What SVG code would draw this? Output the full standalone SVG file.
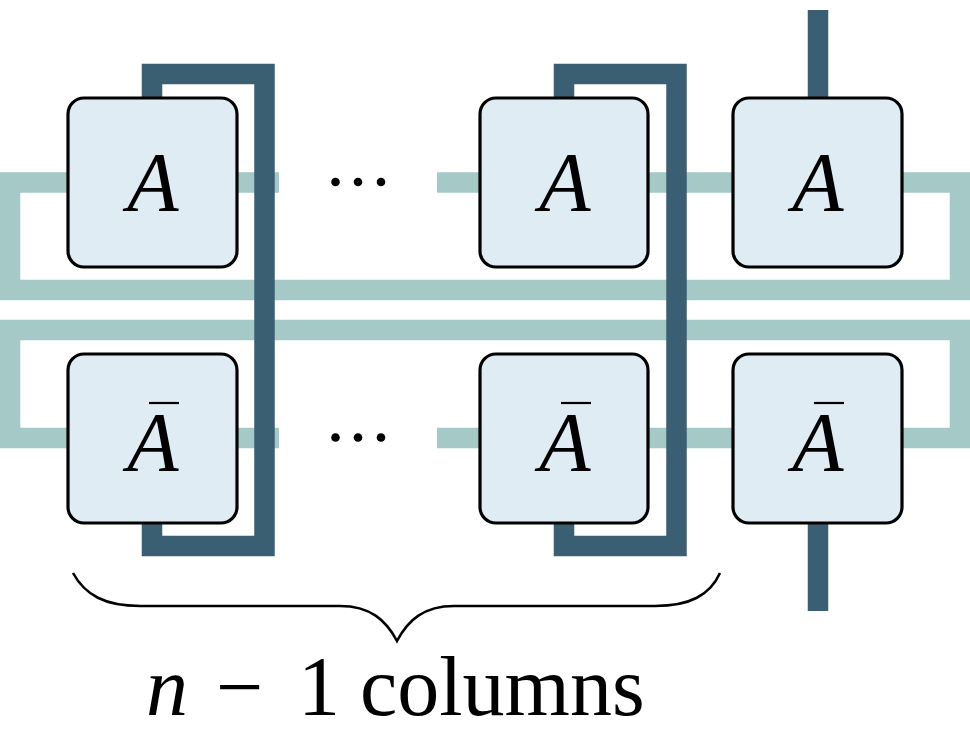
<svg xmlns="http://www.w3.org/2000/svg" width="970" height="750" viewBox="0 0 970 750">
<style>
.teal{fill:none;stroke:#A4C9C6;stroke-width:20.5;stroke-linejoin:miter;stroke-linecap:butt}
.dark{fill:none;stroke:#3A5F72;stroke-width:20.5;stroke-linejoin:miter;stroke-linecap:butt}
.box{fill:#DFECF4;stroke:#000;stroke-width:3.2}
.lbl{font-family:"Liberation Serif","Times New Roman",serif;font-style:italic;font-size:84px;fill:#000}
.bar{stroke:#000;stroke-width:2.2}
.txt{font-family:"Liberation Serif","Times New Roman",serif;font-size:84px;fill:#000}
</style>
<g id="connectors">
  <path class="teal" d="M68,182.5 H10 V290 H960 V182.5 H902"/>
  <path class="teal" d="M68,438 H10 V330 H960 V438 H902"/>
  <path class="teal" d="M237,182.5 H279"/>
  <path class="teal" d="M437,182.5 H480"/>
  <path class="teal" d="M648,182.5 H733"/>
  <path class="teal" d="M237,438 H279"/>
  <path class="teal" d="M437,438 H480"/>
  <path class="teal" d="M648,438 H733"/>
  <path class="dark" d="M152,98 V74 H264.5 V546 H152 V523"/>
  <path class="dark" d="M564,98 V74 H676.5 V546 H564 V523"/>
  <path class="dark" d="M818,10 V98"/>
  <path class="dark" d="M818,523 V611"/>
</g>
<g id="dots">
  <circle cx="335.5" cy="182" r="4.3"/><circle cx="358" cy="182" r="4.3"/><circle cx="381" cy="182" r="4.3"/>
  <circle cx="335.5" cy="437.5" r="4.3"/><circle cx="358" cy="437.5" r="4.3"/><circle cx="381" cy="437.5" r="4.3"/>
</g>
<g id="A1"><rect class="box" x="68" y="98" width="169" height="169" rx="16"/><text class="lbl" x="153" y="211" text-anchor="middle">A</text></g>
<g id="A2"><rect class="box" x="480" y="98" width="168" height="169" rx="16"/><text class="lbl" x="565" y="211" text-anchor="middle">A</text></g>
<g id="A3"><rect class="box" x="733" y="98" width="169" height="169" rx="16"/><text class="lbl" x="818" y="211" text-anchor="middle">A</text></g>
<g id="Abar1"><rect class="box" x="68" y="354" width="169" height="169" rx="16"/><text class="lbl" x="153" y="471" text-anchor="middle">A</text><line class="bar" x1="149" y1="403" x2="179" y2="403"/></g>
<g id="Abar2"><rect class="box" x="480" y="354" width="168" height="169" rx="16"/><text class="lbl" x="565" y="471" text-anchor="middle">A</text><line class="bar" x1="561" y1="403" x2="591" y2="403"/></g>
<g id="Abar3"><rect class="box" x="733" y="354" width="169" height="169" rx="16"/><text class="lbl" x="818" y="471" text-anchor="middle">A</text><line class="bar" x1="814" y1="403" x2="844" y2="403"/></g>
<g id="brace">
  <path d="M73,573 C85,595 105,606 140,606 H340 C370,606 386,620 397,641 C408,620 424,606 454,606 H655 C690,606 710,595 720,573" fill="none" stroke="#000" stroke-width="2.6"/>
</g>
<g id="caption">
  <text class="txt" y="715"><tspan x="146" font-style="italic">n</tspan><tspan x="216">−</tspan><tspan x="298">1</tspan><tspan x="360">columns</tspan></text>
</g>
</svg>
